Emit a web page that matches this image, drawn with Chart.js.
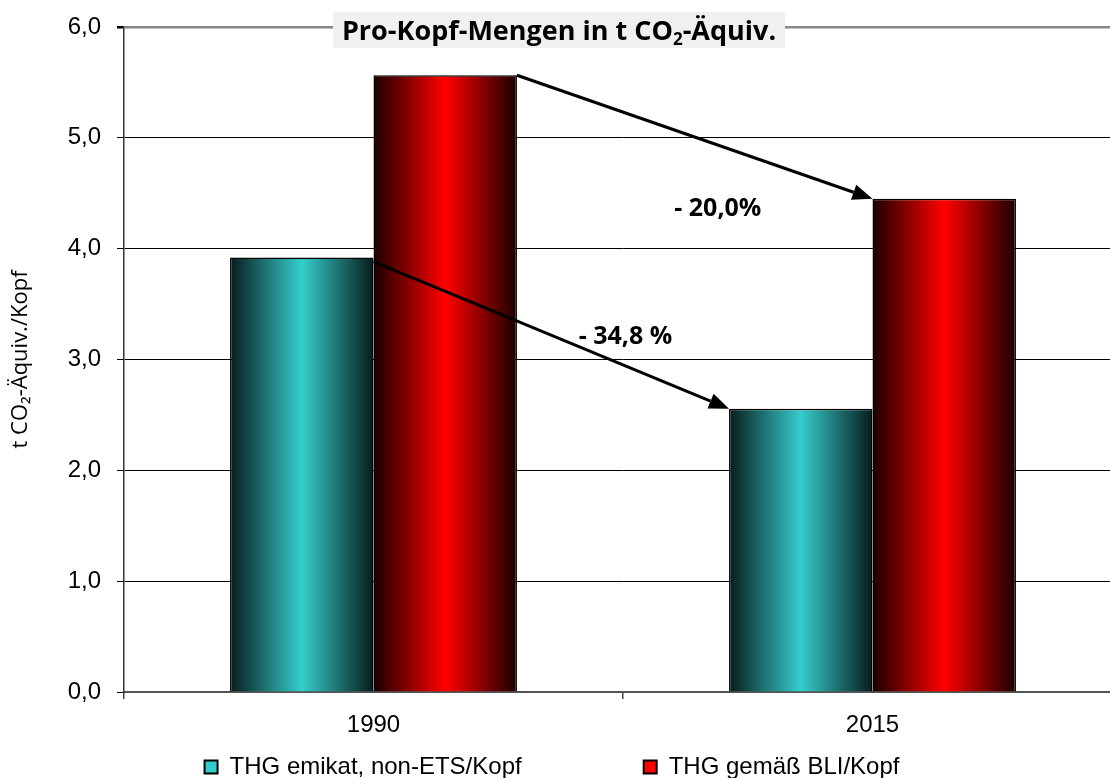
<!DOCTYPE html>
<html lang="de">
<head>
    <meta charset="UTF-8">
    <title>Pro-Kopf-Mengen in t CO2-Äquiv.</title>
    <style>
        body {
            margin: 0;
            padding: 0;
            background: #fff;
            overflow: hidden;
        }
        #wrap {
            width: 1110px;
            height: 778px;
            overflow: hidden;
        }
    </style>
    <script src="https://cdn.jsdelivr.net/npm/chart.js"></script>
</head>
<body>
    <div id="wrap">
        <!-- etwas breiter als das Fenster: das Original ist rechts abgeschnitten -->
        <canvas id="co2Chart" width="1124" height="778"></canvas>
    </div>

    <script>
        // Daten
        const years = ['1990', '2015'];
        const emikatValues = [3.92, 2.555];
        const bliValues = [5.565, 4.45];
        const changeLabels = ['- 20,0%', '- 34,8 %'];
        const yTicks = [0, 1, 2, 3, 4, 5, 6];

        const mainFont = "'Liberation Sans', Arial, sans-serif";
        const boldFont = "'Open Sans', 'Noto Sans', sans-serif";

        // Balken mit Zylinder-Verlauf (dunkel - Farbe - dunkel)
        const barShade = {
            id: 'barShade',
            afterLayout(chart) {
                // Legende tiefer und auf die sichtbare Breite zentriert
                if (chart.legend) {
                    chart.legend.top += 11;
                    chart.legend.bottom += 11;
                    chart.legend.left -= 9;
                    chart.legend.right -= 9;
                }
            },
            beforeDatasetsDraw(chart) {
                const c = chart.ctx;
                chart.data.datasets.forEach((ds, i) => {
                    chart.getDatasetMeta(i).data.forEach(bar => {
                        const left = bar.x - bar.width / 2;
                        const right = bar.x + bar.width / 2;
                        const g = c.createLinearGradient(left, 0, right, 0);
                        g.addColorStop(0, ds.shadeEdge);
                        g.addColorStop(0.5, ds.shadeMid);
                        g.addColorStop(1, ds.shadeEdge);
                        bar.options = Object.assign({}, bar.options, { backgroundColor: g });
                    });
                });
            }
        };

        function arrow(c, x1, y1, x2, y2) {
            const ang = Math.atan2(y2 - y1, x2 - x1);
            const len = 20, half = 8;
            const bx = x2 - len * Math.cos(ang), by = y2 - len * Math.sin(ang);
            c.beginPath();
            c.moveTo(x1, y1);
            c.lineTo(bx, by);
            c.lineWidth = 3;
            c.strokeStyle = '#000';
            c.stroke();
            c.beginPath();
            c.moveTo(x2, y2);
            c.lineTo(bx + half * Math.sin(ang), by - half * Math.cos(ang));
            c.lineTo(bx - half * Math.sin(ang), by + half * Math.cos(ang));
            c.closePath();
            c.fillStyle = '#000';
            c.fill();
        }

        // Pfeile, Prozentangaben und Titelkasten
        const annotations = {
            id: 'annotations',
            afterDraw(chart) {
                const c = chart.ctx;
                const xs = chart.scales.x, ys = chart.scales.y;
                c.save();

                // Pfeile: rechte obere Ecke 1990 -> linke obere Ecke 2015
                [1, 0].forEach(di => {
                    const bars = chart.getDatasetMeta(di).data;
                    const a = bars[0], b = bars[1];
                    arrow(c, a.x + a.width / 2, a.y + (di === 0 ? 4 : 0), b.x - b.width / 2, b.y);
                });

                c.fillStyle = '#000';
                c.font = 'bold 25px ' + boldFont;
                c.textAlign = 'center';
                c.textBaseline = 'middle';
                c.fillText(changeLabels[0], xs.getPixelForValue(0.69), ys.getPixelForValue(4.36));
                c.fillText(changeLabels[1], xs.getPixelForValue(0.505), ys.getPixelForValue(3.2));

                // Titelkasten
                const bx = 333, by = 12, bw = 452, bh = 36;
                c.fillStyle = '#f0f0f0';
                c.fillRect(bx, by, bw, bh);
                c.fillStyle = '#000';
                c.textAlign = 'left';
                c.textBaseline = 'alphabetic';
                const parts = ['Pro-Kopf-Mengen in t CO', '2', '-Äquiv.'];
                const big = 'bold 27px ' + boldFont, small = 'bold 17px ' + boldFont;
                c.font = big;
                const w0 = c.measureText(parts[0]).width;
                const w2 = c.measureText(parts[2]).width;
                c.font = small;
                const w1 = c.measureText(parts[1]).width;
                let x = bx + (bw - (w0 + w1 + w2)) / 2;
                const base = by + 28;
                c.font = big;
                c.fillText(parts[0], x, base);
                x += w0;
                c.font = small;
                c.fillText(parts[1], x, base + 5);
                x += w1;
                c.font = big;
                c.fillText(parts[2], x, base);
                c.restore();
            }
        };

        const ctx = document.getElementById('co2Chart').getContext('2d');
        const co2Chart = new Chart(ctx, {
            type: 'bar',
            data: {
                labels: years,
                datasets: [
                    {
                        label: 'THG emikat, non-ETS/Kopf',
                        data: emikatValues,
                        backgroundColor: '#33cccc',
                        shadeMid: '#35cdcd',
                        shadeEdge: '#071c1c',
                        borderColor: '#000',
                        borderWidth: 1.5,
                        categoryPercentage: 0.575,
                        barPercentage: 1.0
                    },
                    {
                        label: 'THG gemäß BLI/Kopf',
                        data: bliValues,
                        backgroundColor: '#ff0000',
                        shadeMid: '#ff0000',
                        shadeEdge: '#1a0000',
                        borderColor: '#000',
                        borderWidth: 1.5,
                        categoryPercentage: 0.575,
                        barPercentage: 1.0
                    }
                ]
            },
            options: {
                responsive: false,
                animation: false,
                devicePixelRatio: 1,
                layout: {
                    padding: { top: 27, right: 2, left: 0, bottom: 0 }
                },
                plugins: {
                    tooltip: { enabled: false },
                    legend: {
                        position: 'bottom',
                        labels: {
                            color: '#000',
                            font: { family: mainFont, size: 24 },
                            boxWidth: 13,
                            boxHeight: 13,
                            padding: 2,
                            generateLabels(chart) {
                                // Abstand zwischen den Einträgen über geschützte Leerzeichen
                                return chart.data.datasets.map((ds, i) => ({
                                    text: i === 0 ? ds.label + '\u00a0'.repeat(18) : ds.label,
                                    fillStyle: ds.backgroundColor,
                                    strokeStyle: '#000',
                                    lineWidth: 2,
                                    datasetIndex: i,
                                    hidden: false
                                }));
                            }
                        }
                    }
                },
                scales: {
                    x: {
                        ticks: {
                            color: '#000',
                            font: { family: mainFont, size: 24 },
                            padding: 12
                        },
                        grid: {
                            offset: true,
                            drawOnChartArea: false,
                            drawTicks: true,
                            tickLength: 7,
                            color: '#444',
                            lineWidth: 1.5
                        },
                        border: { color: '#555', width: 2 },
                        afterFit(scale) {
                            scale.height = 50;
                            scale.paddingLeft = 0;
                            scale.paddingRight = 0;
                        }
                    },
                    y: {
                        min: 0,
                        max: 6,
                        afterBuildTicks(scale) {
                            scale.ticks = yTicks.map(v => ({ value: v }));
                        },
                        ticks: {
                            color: '#000',
                            font: { family: mainFont, size: 24 },
                            padding: 16,
                            callback: v => v.toFixed(1).replace('.', ',')
                        },
                        grid: {
                            color: ctx2 => ctx2.tick && ctx2.tick.value === 6 ? '#888' : '#000',
                            lineWidth: ctx2 => ctx2.tick && ctx2.tick.value === 6 ? 2.5 : 1,
                            tickLength: 7,
                            tickColor: '#000'
                        },
                        border: { color: '#333', width: 1.5 },
                        title: {
                            display: true,
                            text: 't CO₂-Äquiv./Kopf',
                            color: '#000',
                            font: { family: boldFont, size: 22 },
                            padding: { top: 8, bottom: 0 }
                        },
                        afterFit(scale) {
                            scale.width = 124;
                            scale.paddingTop = 0;
                            scale.paddingBottom = 0;
                        }
                    }
                }
            },
            plugins: [barShade, annotations]
        });
    </script>
</body>
</html>
